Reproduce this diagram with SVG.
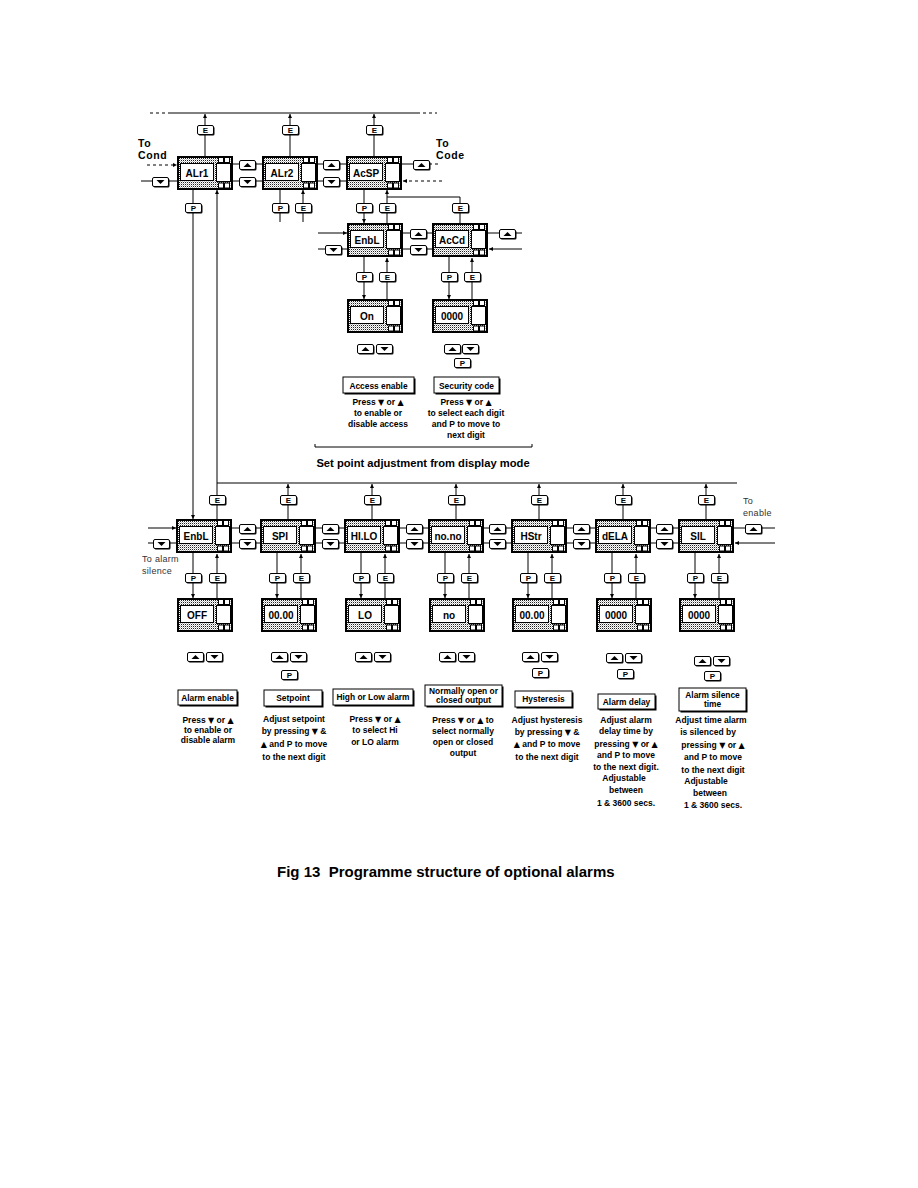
<svg xmlns="http://www.w3.org/2000/svg" xmlns:xlink="http://www.w3.org/1999/xlink" width="918" height="1188" viewBox="0 0 918 1188">
<style>
.ln{stroke:#000;stroke-width:1;fill:none}
.da{stroke-dasharray:3 3}
.nt{font-family:"Liberation Sans","DejaVu Sans",sans-serif;font-weight:bold;font-size:10px;text-anchor:middle}
.kt{font-family:"Liberation Sans","DejaVu Sans",sans-serif;font-weight:bold;font-size:8px;text-anchor:middle}
.bt{font-family:"Liberation Sans","DejaVu Sans",sans-serif;font-weight:bold;font-size:8.4px;text-anchor:middle}
.ds{font-family:"Liberation Sans","DejaVu Sans",sans-serif;font-weight:bold;font-size:8.5px;text-anchor:middle}
.tr{font-family:"DejaVu Sans",sans-serif;font-size:8px}
.sd{font-family:"Liberation Sans","DejaVu Sans",sans-serif;font-size:9px;fill:#333;letter-spacing:0.3px}
.to{font-family:"Liberation Sans","DejaVu Sans",sans-serif;font-weight:bold;font-size:10.5px;letter-spacing:0.6px}
</style>
<defs>
<pattern id="dots" width="2" height="2" patternUnits="userSpaceOnUse"><rect width="2" height="2" fill="#fff"/><rect width="1" height="1" fill="#222"/><rect x="1" y="1" width="1" height="1" fill="#bbb"/></pattern>
<marker id="ar" viewBox="0 0 6 6" refX="6" refY="3" markerWidth="4" markerHeight="4" markerUnits="userSpaceOnUse" orient="auto"><path d="M0 0 L6 3 L0 6 Z" fill="#000"/></marker>
<g id="disp">
<rect x="1" y="1" width="54" height="32" fill="url(#dots)" stroke="#000" stroke-width="2"/>
<rect x="3.5" y="7.5" width="33" height="17" fill="#fff" stroke="#000"/>
<rect x="39.5" y="7.5" width="14" height="18" fill="#fff" stroke="#000"/>
<rect x="41.5" y="1.5" width="5" height="5" fill="#fff" stroke="#000"/>
<rect x="47.5" y="1.5" width="5" height="5" fill="#fff" stroke="#000"/>
<rect x="41.5" y="27" width="5" height="5" fill="#fff" stroke="#000"/>
<rect x="47.5" y="27" width="5" height="5" fill="#fff" stroke="#000"/>
</g>
<g id="key"><rect x="1.5" y="1.5" width="16" height="9" rx="1.5" fill="#000"/><rect x="0.5" y="0.5" width="16" height="9" rx="1.5" fill="#fff" stroke="#000"/></g>
<g id="bU"><use xlink:href="#key"/><path d="M4.5 7 H12.5 L8.5 3 Z" fill="#000"/></g>
<g id="bD"><use xlink:href="#key"/><path d="M4.5 3 H12.5 L8.5 7 Z" fill="#000"/></g>
</defs>
<rect width="918" height="1188" fill="#fff"/>

<g id="connectors">
<path class="ln da" d="M150 113 H170 M417 113 H437"/>
<path class="ln" d="M170 113 H417"/>
<path class="ln" d="M205 156 V114" marker-end="url(#ar)"/>
<path class="ln" d="M290 156 V114" marker-end="url(#ar)"/>
<path class="ln" d="M374 156 V114" marker-end="url(#ar)"/>
<path class="ln" d="M233 164 H262 M317 164 H346 M233 181 H262 M317 181 H346"/>
<path class="ln da" d="M147 165 H177" marker-end="url(#ar)"/>
<path class="ln" d="M141 181 H177"/>
<path class="ln" d="M402 164 H413"/>
<path class="ln da" d="M429 164 H441"/>
<path class="ln da" d="M442 181 H403" marker-end="url(#ar)"/>
<path class="ln" d="M193 189 V519" marker-end="url(#ar)"/>
<path class="ln" d="M217 519 V190" marker-end="url(#ar)"/>
<path class="ln" d="M280 189 V222"/>
<path class="ln" d="M303 222 V190" marker-end="url(#ar)"/>
<path class="ln" d="M364 189 V223" marker-end="url(#ar)"/>
<path class="ln" d="M387 223 V190" marker-end="url(#ar)"/>
<path class="ln" d="M460 223 V197 H387"/>
<path class="ln" d="M318 233 H347" marker-end="url(#ar)"/>
<path class="ln" d="M318 249 H347 M403 233 H432 M403 249 H432 M488 233 H522"/>
<path class="ln" d="M522 249 H489" marker-end="url(#ar)"/>
<path class="ln" d="M364 257 V299" marker-end="url(#ar)"/>
<path class="ln" d="M387 299 V258" marker-end="url(#ar)"/>
<path class="ln" d="M449 257 V299" marker-end="url(#ar)"/>
<path class="ln" d="M472 299 V258" marker-end="url(#ar)"/>
<path class="ln" d="M315 444 V447 H532 V444"/>
<path class="ln" d="M217 483 H737"/>
<path class="ln" d="M288 519 V484" marker-end="url(#ar)"/>
<path class="ln" d="M372 519 V484" marker-end="url(#ar)"/>
<path class="ln" d="M456 519 V484" marker-end="url(#ar)"/>
<path class="ln" d="M539 519 V484" marker-end="url(#ar)"/>
<path class="ln" d="M623 519 V484" marker-end="url(#ar)"/>
<path class="ln" d="M706 519 V484" marker-end="url(#ar)"/>
<path class="ln" d="M148 528 H176" marker-end="url(#ar)"/>
<path class="ln" d="M148 543 H176"/>
<path class="ln" d="M232 528 H260 M316 528 H344 M400 528 H428 M484 528 H511 M567 528 H595 M651 528 H678"/>
<path class="ln" d="M232 543 H260 M316 543 H344 M400 543 H428 M484 543 H511 M567 543 H595 M651 543 H678"/>
<path class="ln" d="M734 528 H775"/>
<path class="ln" d="M775 543 H735" marker-end="url(#ar)"/>
<path class="ln" d="M193 553 V598" marker-end="url(#ar)"/>
<path class="ln" d="M217 598 V554" marker-end="url(#ar)"/>
<path class="ln" d="M277 553 V598" marker-end="url(#ar)"/>
<path class="ln" d="M301 598 V554" marker-end="url(#ar)"/>
<path class="ln" d="M361 553 V598" marker-end="url(#ar)"/>
<path class="ln" d="M385 598 V554" marker-end="url(#ar)"/>
<path class="ln" d="M445 553 V598" marker-end="url(#ar)"/>
<path class="ln" d="M469 598 V554" marker-end="url(#ar)"/>
<path class="ln" d="M528 553 V598" marker-end="url(#ar)"/>
<path class="ln" d="M552 598 V554" marker-end="url(#ar)"/>
<path class="ln" d="M612 553 V598" marker-end="url(#ar)"/>
<path class="ln" d="M636 598 V554" marker-end="url(#ar)"/>
<path class="ln" d="M695 553 V598" marker-end="url(#ar)"/>
<path class="ln" d="M719 598 V554" marker-end="url(#ar)"/>
</g>

<g id="keys">
<use xlink:href="#key" x="197" y="125"/><text class="kt" x="205.5" y="133">E</text>
<use xlink:href="#key" x="282" y="125"/><text class="kt" x="290.5" y="133">E</text>
<use xlink:href="#key" x="366" y="125"/><text class="kt" x="374.5" y="133">E</text>
<use xlink:href="#bU" x="239" y="160"/><use xlink:href="#bD" x="239" y="177"/>
<use xlink:href="#bU" x="323" y="160"/><use xlink:href="#bD" x="323" y="177"/>
<use xlink:href="#bD" x="152" y="177"/>
<use xlink:href="#bU" x="413" y="160"/>
<use xlink:href="#key" x="185" y="203"/><text class="kt" x="193.5" y="211">P</text>
<use xlink:href="#key" x="272" y="203"/><text class="kt" x="280.5" y="211">P</text>
<use xlink:href="#key" x="295" y="203"/><text class="kt" x="303.5" y="211">E</text>
<use xlink:href="#key" x="356" y="203"/><text class="kt" x="364.5" y="211">P</text>
<use xlink:href="#key" x="379" y="203"/><text class="kt" x="387.5" y="211">E</text>
<use xlink:href="#key" x="452" y="203"/><text class="kt" x="460.5" y="211">E</text>
<use xlink:href="#bD" x="325" y="245"/>
<use xlink:href="#bU" x="410" y="229"/><use xlink:href="#bD" x="410" y="245"/>
<use xlink:href="#bU" x="499" y="229"/>
<use xlink:href="#key" x="356" y="272"/><text class="kt" x="364.5" y="280">P</text>
<use xlink:href="#key" x="379" y="272"/><text class="kt" x="387.5" y="280">E</text>
<use xlink:href="#key" x="441" y="272"/><text class="kt" x="449.5" y="280">P</text>
<use xlink:href="#key" x="464" y="272"/><text class="kt" x="472.5" y="280">E</text>
<use xlink:href="#bU" x="357" y="344"/><use xlink:href="#bD" x="376" y="344"/>
<use xlink:href="#bU" x="444" y="344"/><use xlink:href="#bD" x="462" y="344"/>
<use xlink:href="#key" x="454" y="358"/><text class="kt" x="462.5" y="366">P</text>

<use xlink:href="#key" x="209" y="495"/><text class="kt" x="217.5" y="503">E</text>
<use xlink:href="#key" x="280" y="495"/><text class="kt" x="288.5" y="503">E</text>
<use xlink:href="#key" x="364" y="495"/><text class="kt" x="372.5" y="503">E</text>
<use xlink:href="#key" x="448" y="495"/><text class="kt" x="456.5" y="503">E</text>
<use xlink:href="#key" x="531" y="495"/><text class="kt" x="539.5" y="503">E</text>
<use xlink:href="#key" x="615" y="495"/><text class="kt" x="623.5" y="503">E</text>
<use xlink:href="#key" x="698" y="495"/><text class="kt" x="706.5" y="503">E</text>
<use xlink:href="#bU" x="239" y="524"/><use xlink:href="#bD" x="239" y="539"/>
<use xlink:href="#bU" x="322" y="524"/><use xlink:href="#bD" x="322" y="539"/>
<use xlink:href="#bU" x="406" y="524"/><use xlink:href="#bD" x="406" y="539"/>
<use xlink:href="#bU" x="489" y="524"/><use xlink:href="#bD" x="489" y="539"/>
<use xlink:href="#bU" x="573" y="524"/><use xlink:href="#bD" x="573" y="539"/>
<use xlink:href="#bU" x="656" y="524"/><use xlink:href="#bD" x="656" y="539"/>
<use xlink:href="#bD" x="153" y="539"/>
<use xlink:href="#bU" x="745" y="524"/>
<use xlink:href="#key" x="185" y="573"/><text class="kt" x="193.5" y="581">P</text>
<use xlink:href="#key" x="209" y="573"/><text class="kt" x="217.5" y="581">E</text>
<use xlink:href="#key" x="269" y="573"/><text class="kt" x="277.5" y="581">P</text>
<use xlink:href="#key" x="293" y="573"/><text class="kt" x="301.5" y="581">E</text>
<use xlink:href="#key" x="353" y="573"/><text class="kt" x="361.5" y="581">P</text>
<use xlink:href="#key" x="377" y="573"/><text class="kt" x="385.5" y="581">E</text>
<use xlink:href="#key" x="437" y="573"/><text class="kt" x="445.5" y="581">P</text>
<use xlink:href="#key" x="461" y="573"/><text class="kt" x="469.5" y="581">E</text>
<use xlink:href="#key" x="520" y="573"/><text class="kt" x="528.5" y="581">P</text>
<use xlink:href="#key" x="544" y="573"/><text class="kt" x="552.5" y="581">E</text>
<use xlink:href="#key" x="604" y="573"/><text class="kt" x="612.5" y="581">P</text>
<use xlink:href="#key" x="628" y="573"/><text class="kt" x="636.5" y="581">E</text>
<use xlink:href="#key" x="687" y="573"/><text class="kt" x="695.5" y="581">P</text>
<use xlink:href="#key" x="711" y="573"/><text class="kt" x="719.5" y="581">E</text>
<use xlink:href="#bU" x="187" y="652"/><use xlink:href="#bD" x="206" y="652"/>
<use xlink:href="#bU" x="271" y="652"/><use xlink:href="#bD" x="290" y="652"/>
<use xlink:href="#key" x="281" y="670"/><text class="kt" x="289.5" y="678">P</text>
<use xlink:href="#bU" x="355" y="652"/><use xlink:href="#bD" x="374" y="652"/>
<use xlink:href="#bU" x="439" y="652"/><use xlink:href="#bD" x="458" y="652"/>
<use xlink:href="#bU" x="522" y="652"/><use xlink:href="#bD" x="541" y="652"/>
<use xlink:href="#key" x="532" y="668"/><text class="kt" x="540.5" y="676">P</text>
<use xlink:href="#bU" x="606" y="653"/><use xlink:href="#bD" x="625" y="653"/>
<use xlink:href="#key" x="617" y="669"/><text class="kt" x="625.5" y="677">P</text>
<use xlink:href="#bU" x="694" y="656"/><use xlink:href="#bD" x="713" y="656"/>
<use xlink:href="#key" x="704" y="671"/><text class="kt" x="712.5" y="679">P</text>
</g>

<g id="n-alr1"><use xlink:href="#disp" x="177" y="156"/><text class="nt" x="197" y="176.5">ALr1</text></g>
<g id="n-alr2"><use xlink:href="#disp" x="262" y="156"/><text class="nt" x="282" y="176.5">ALr2</text></g>
<g id="n-acsp"><use xlink:href="#disp" x="346" y="156"/><text class="nt" x="366" y="176.5">AcSP</text></g>
<g id="n-enbl-sp"><use xlink:href="#disp" x="347" y="223"/><text class="nt" x="367" y="243.5">EnbL</text></g>
<g id="n-accd"><use xlink:href="#disp" x="432" y="223"/><text class="nt" x="452" y="243.5">AcCd</text></g>
<g id="n-on"><use xlink:href="#disp" x="347" y="299"/><text class="nt" x="367" y="319.5">On</text></g>
<g id="n-code"><use xlink:href="#disp" x="432" y="299"/><text class="nt" x="452" y="319.5">0000</text></g>

<g id="n-enbl"><use xlink:href="#disp" x="176" y="519"/><text class="nt" x="196" y="539.5">EnbL</text></g>
<g id="n-spi"><use xlink:href="#disp" x="260" y="519"/><text class="nt" x="280" y="539.5">SPI</text></g>
<g id="n-hilo"><use xlink:href="#disp" x="344" y="519"/><text class="nt" x="364" y="539.5">HI.LO</text></g>
<g id="n-nono"><use xlink:href="#disp" x="428" y="519"/><text class="nt" x="448" y="539.5">no.no</text></g>
<g id="n-hstr"><use xlink:href="#disp" x="511" y="519"/><text class="nt" x="531" y="539.5">HStr</text></g>
<g id="n-dela"><use xlink:href="#disp" x="595" y="519"/><text class="nt" x="615" y="539.5">dELA</text></g>
<g id="n-sil"><use xlink:href="#disp" x="678" y="519"/><text class="nt" x="698" y="539.5">SIL</text></g>

<g id="n-off"><use xlink:href="#disp" x="177" y="598"/><text class="nt" x="197" y="618.5">OFF</text></g>
<g id="n-sp-val"><use xlink:href="#disp" x="261" y="598"/><text class="nt" x="281" y="618.5">00.00</text></g>
<g id="n-lo"><use xlink:href="#disp" x="345" y="598"/><text class="nt" x="365" y="618.5">LO</text></g>
<g id="n-no"><use xlink:href="#disp" x="429" y="598"/><text class="nt" x="449" y="618.5">no</text></g>
<g id="n-hs-val"><use xlink:href="#disp" x="512" y="598"/><text class="nt" x="532" y="618.5">00.00</text></g>
<g id="n-de-val"><use xlink:href="#disp" x="596" y="598"/><text class="nt" x="616" y="618.5">0000</text></g>
<g id="n-si-val"><use xlink:href="#disp" x="679" y="598"/><text class="nt" x="699" y="618.5">0000</text></g>

<g id="side-labels">
<text class="to" x="138" y="147">To</text><text class="to" x="138" y="159">Cond</text>
<text class="to" x="436" y="147">To</text><text class="to" x="436" y="159">Code</text>
<text class="sd" x="142" y="562">To alarm</text><text class="sd" x="142" y="574">silence</text>
<text class="sd" x="743" y="504">To</text><text class="sd" x="743" y="516">enable</text>
</g>

<g id="l-access"><rect x="344.5" y="378.5" width="71" height="16" fill="#000"/><rect x="343" y="377" width="71" height="16" fill="#fff" stroke="#000"/><text class="bt" x="378.5" y="388.5">Access enable</text>
<text class="ds" x="378" y="405">Press <tspan class="tr">▼</tspan> or <tspan class="tr">▲</tspan></text><text class="ds" x="378" y="416">to enable or</text><text class="ds" x="378" y="427">disable access</text></g>
<g id="l-security"><rect x="435.5" y="378.5" width="65" height="16" fill="#000"/><rect x="434" y="377" width="65" height="16" fill="#fff" stroke="#000"/><text class="bt" x="466.5" y="388.5">Security code</text>
<text class="ds" x="466" y="405">Press <tspan class="tr">▼</tspan> or <tspan class="tr">▲</tspan></text><text class="ds" x="466" y="416">to select each digit</text><text class="ds" x="466" y="427">and P to move to</text><text class="ds" x="466" y="438">next digit</text></g>
<text class="nt" style="font-size:11.2px" x="423" y="467">Set point adjustment from display mode</text>

<g id="l-alarm-enable"><rect x="179.5" y="691.5" width="59" height="15" fill="#000"/><rect x="178" y="690" width="59" height="15" fill="#fff" stroke="#000"/><text class="bt" x="207.5" y="700.5">Alarm enable</text>
<text class="ds" x="208" y="723">Press <tspan class="tr">▼</tspan> or <tspan class="tr">▲</tspan></text><text class="ds" x="208" y="733">to enable or</text><text class="ds" x="208" y="743">disable alarm</text></g>
<g id="l-setpoint"><rect x="265.5" y="691.5" width="58" height="16" fill="#000"/><rect x="264" y="690" width="58" height="16" fill="#fff" stroke="#000"/><text class="bt" x="293" y="701">Setpoint</text>
<text class="ds" x="294" y="722">Adjust setpoint</text><text class="ds" x="294" y="734">by pressing <tspan class="tr">▼</tspan> &amp;</text><text class="ds" x="294" y="747"><tspan class="tr">▲</tspan> and P to move</text><text class="ds" x="294" y="760">to the next digit</text></g>
<g id="l-hilo"><rect x="334.5" y="690.5" width="80" height="16" fill="#000"/><rect x="333" y="689" width="80" height="16" fill="#fff" stroke="#000"/><text class="bt" x="373" y="700">High or Low alarm</text>
<text class="ds" x="375" y="722">Press <tspan class="tr">▼</tspan> or <tspan class="tr">▲</tspan></text><text class="ds" x="375" y="733">to select Hi</text><text class="ds" x="375" y="745">or LO alarm</text></g>
<g id="l-nono"><rect x="426.5" y="686.5" width="77" height="21" fill="#000"/><rect x="425" y="685" width="77" height="21" fill="#fff" stroke="#000"/><text class="bt" x="463.5" y="694">Normally open or</text><text class="bt" x="463.5" y="703">closed output</text>
<text class="ds" x="463" y="723">Press <tspan class="tr">▼</tspan> or <tspan class="tr">▲</tspan> to</text><text class="ds" x="463" y="734">select normally</text><text class="ds" x="463" y="745">open or closed</text><text class="ds" x="463" y="756">output</text></g>
<g id="l-hyst"><rect x="516.5" y="692.5" width="57" height="16" fill="#000"/><rect x="515" y="691" width="57" height="16" fill="#fff" stroke="#000"/><text class="bt" x="543.5" y="702">Hysteresis</text>
<text class="ds" x="547" y="723">Adjust hysteresis</text><text class="ds" x="547" y="735">by pressing <tspan class="tr">▼</tspan> &amp;</text><text class="ds" x="547" y="747"><tspan class="tr">▲</tspan> and P to move</text><text class="ds" x="547" y="760">to the next digit</text></g>
<g id="l-delay"><rect x="599.5" y="695.5" width="57" height="15" fill="#000"/><rect x="598" y="694" width="57" height="15" fill="#fff" stroke="#000"/><text class="bt" x="626.5" y="704.5">Alarm delay</text>
<text class="ds" x="626" y="723">Adjust alarm</text><text class="ds" x="626" y="734">delay time by</text><text class="ds" x="626" y="747">pressing <tspan class="tr">▼</tspan> or <tspan class="tr">▲</tspan></text><text class="ds" x="626" y="758">and P to move</text><text class="ds" x="626" y="770">to the next digit.</text><text class="ds" x="624" y="781">Adjustable</text><text class="ds" x="626" y="793">between</text><text class="ds" x="626" y="806">1 &amp; 3600 secs.</text></g>
<g id="l-silence"><rect x="680.5" y="689.5" width="67" height="23" fill="#000"/><rect x="679" y="688" width="67" height="23" fill="#fff" stroke="#000"/><text class="bt" x="712.5" y="698">Alarm silence</text><text class="bt" x="712.5" y="707">time</text>
<text class="ds" x="711" y="723">Adjust time alarm</text><text class="ds" x="708" y="735">is silenced by</text><text class="ds" x="713" y="748">pressing <tspan class="tr">▼</tspan> or <tspan class="tr">▲</tspan></text><text class="ds" x="713" y="760">and P to move</text><text class="ds" x="713" y="773">to the next digit</text><text class="ds" x="706" y="784">Adjustable</text><text class="ds" x="710" y="796">between</text><text class="ds" x="713" y="808">1 &amp; 3600 secs.</text></g>

<text x="277" y="877" style="font-family:'Liberation Sans','DejaVu Sans',sans-serif;font-weight:bold;font-size:15px" xml:space="preserve">Fig 13  Programme structure of optional alarms</text>
</svg>
